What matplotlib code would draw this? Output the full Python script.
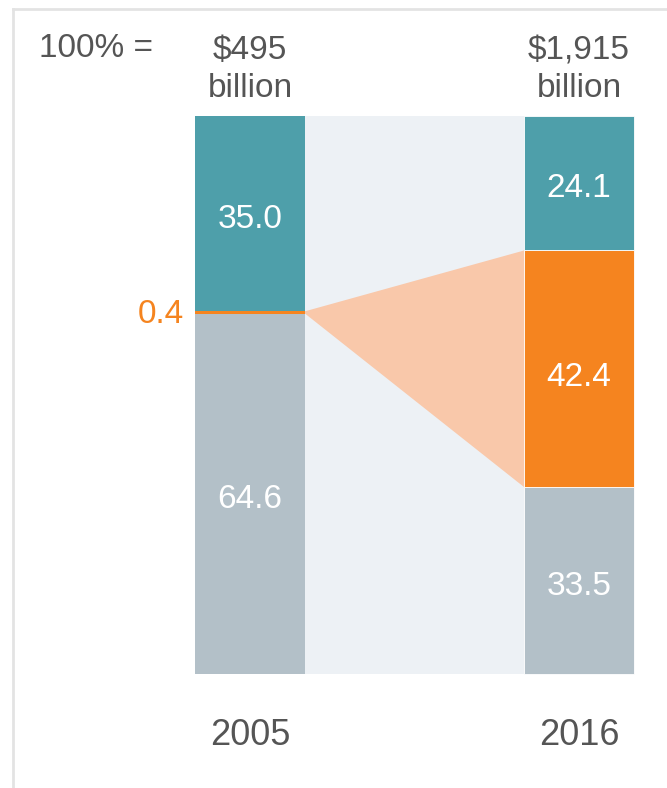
import matplotlib.pyplot as plt
from matplotlib.lines import Line2D

# Datos: cuota (%) por año, de abajo hacia arriba
years = ['2005', '2016']
totals = ['$495\nbillion', '$1,915\nbillion']
gray_vals = [64.6, 33.5]
orange_vals = [0.4, 42.4]
teal_vals = [35.0, 24.1]

TEAL = '#4E9FAA'
ORANGE = '#F5841F'
GRAY = '#B3C0C8'
PEACH = '#F9C8AA'
BAND = '#EDF1F5'
TXT = '#555555'

plt.rcParams['font.family'] = ['Liberation Sans', 'DejaVu Sans']

fig = plt.figure(figsize=(6.67, 7.88), dpi=100)
ax = fig.add_axes([0, 0, 1, 1])
ax.set_xlim(-0.760, 1.2675)
ax.set_ylim(-20.43, 120.79)
ax.axis('off')

x = [0, 1]
w = 0.334

# banda de fondo entre barras
ax.fill_between([x[0] + w / 2, x[1] - w / 2], 0, 100, color=BAND, lw=0, zorder=0)

# conector naranja
y0_lo = gray_vals[0]
y0_hi = gray_vals[0] + orange_vals[0]
y1_lo = gray_vals[1]
y1_hi = gray_vals[1] + orange_vals[1]
ax.fill([x[0] + w / 2, x[1] - w / 2, x[1] - w / 2, x[0] + w / 2],
        [y0_lo, y1_lo, y1_hi, y0_hi], color=PEACH, lw=0, zorder=1)

bottom2 = [g + o for g, o in zip(gray_vals, orange_vals)]
for i in range(2):
    ec = 'white' if i == 1 else 'none'
    ax.bar(x[i], gray_vals[i], w, color=GRAY, edgecolor=ec, lw=0.6, zorder=2)
    ax.bar(x[i], orange_vals[i], w, bottom=gray_vals[i], color=ORANGE, edgecolor=ec, lw=0.6, zorder=2)
    ax.bar(x[i], teal_vals[i], w, bottom=bottom2[i], color=TEAL, edgecolor=ec, lw=0.6, zorder=2)

dy = -1.0  # las etiquetas quedan un poco por debajo del centro
lab = dict(color='white', fontsize=24, ha='center', va='center', zorder=3)
ax.text(x[0], bottom2[0] + teal_vals[0] / 2 + dy, f'{teal_vals[0]:.1f}', **lab)
ax.text(x[0], gray_vals[0] / 2 + dy, f'{gray_vals[0]:.1f}', **lab)
ax.text(x[1], bottom2[1] + teal_vals[1] / 2 + dy, f'{teal_vals[1]:.1f}', **lab)
ax.text(x[1], gray_vals[1] + orange_vals[1] / 2 + dy - 0.6, f'{orange_vals[1]:.1f}', **lab)
ax.text(x[1], gray_vals[1] / 2 + dy, f'{gray_vals[1]:.1f}', **lab)
ax.text(x[0] - w / 2 - 0.035, y0_hi - 0.6, f'{orange_vals[0]:.1f}', color=ORANGE,
        fontsize=24, ha='right', va='center')

# encabezados
for i in range(2):
    ax.text(x[i], 108.3, totals[i], color=TXT, fontsize=24, ha='center', va='center',
            linespacing=1.3)
    ax.text(x[i], -11.0, years[i], color=TXT, fontsize=26, ha='center', va='center')
ax.text(-0.64, 112.1, '100% =', color=TXT, fontsize=24, ha='left', va='center')

# marco
fig.add_artist(Line2D([0.019, 1], [0.989, 0.989], color='#E3E3E3', lw=2))
fig.add_artist(Line2D([0.019, 0.019], [0, 0.989], color='#E3E3E3', lw=2))

fig.savefig('out.png', dpi=100)
